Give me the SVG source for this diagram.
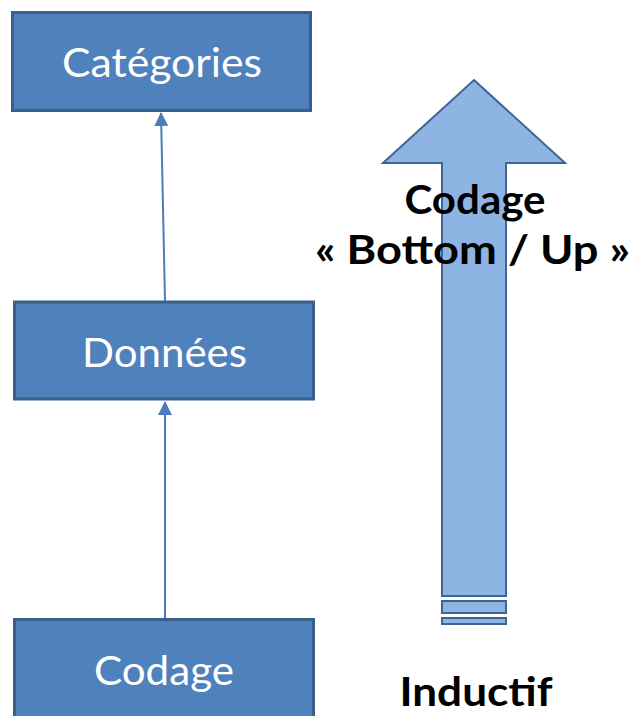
<svg xmlns="http://www.w3.org/2000/svg" width="637" height="716" viewBox="0 0 637 716">
  <style>
    .box { fill: #4F81BD; stroke: #3A5F8B; stroke-width: 3; }
    .boxText { font-family: Lato, "Open Sans", sans-serif; font-size: 41px; fill: #FFFFFF; text-anchor: middle; }
    .bigArrow { fill: #8EB4E3; stroke: #3E6494; stroke-width: 2; stroke-linejoin: miter; }
    .label { font-family: Lato, "Open Sans", sans-serif; font-weight: bold; font-size: 40px; fill: #000000; text-anchor: middle; }
    .link { stroke: #4A7EBB; stroke-width: 2; fill: none; }
  </style>
  <defs>
    <marker id="head" viewBox="0 0 14 14" refX="13" refY="7" markerWidth="14" markerHeight="14" markerUnits="userSpaceOnUse" orient="auto">
      <path d="M0,0 L14,7 L0,14 Z" fill="#4A7EBB"/>
    </marker>
  </defs>
  <rect width="637" height="716" fill="#FFFFFF"/>

  <!-- connectors -->
  <g id="connectors">
    <line class="link" x1="165" y1="301" x2="161" y2="113" marker-end="url(#head)"/>
    <line class="link" x1="165" y1="618" x2="165" y2="402" marker-end="url(#head)"/>
  </g>

  <!-- process boxes -->
  <g id="categories">
    <rect class="box" x="12.5" y="12.5" width="298" height="98"/>
    <text class="boxText" x="162" y="77" textLength="200" lengthAdjust="spacingAndGlyphs">Catégories</text>
  </g>
  <g id="donnees">
    <rect class="box" x="14.5" y="302" width="299" height="97"/>
    <text class="boxText" x="164.5" y="367" textLength="165" lengthAdjust="spacingAndGlyphs">Données</text>
  </g>
  <g id="codage">
    <rect class="box" x="14.5" y="619.5" width="299" height="110"/>
    <text class="boxText" x="164" y="685" textLength="140" lengthAdjust="spacingAndGlyphs">Codage</text>
  </g>

  <!-- striped up arrow -->
  <g id="bottom-up-arrow">
    <path class="bigArrow" d="M474,80 L565,163 L506,163 L506,596 L442,596 L442,163 L383,163 Z"/>
    <rect class="bigArrow" x="442" y="601" width="64" height="12"/>
    <rect class="bigArrow" x="442" y="618" width="64" height="6"/>
  </g>

  <g id="arrow-label">
    <text class="label" x="475" y="214" textLength="141" lengthAdjust="spacingAndGlyphs">Codage</text>
    <text class="label" x="472.5" y="264" textLength="315" lengthAdjust="spacingAndGlyphs">« Bottom / Up »</text>
  </g>
  <g id="inductif">
    <text class="label" x="476" y="706" textLength="153" lengthAdjust="spacingAndGlyphs">Inductif</text>
  </g>
</svg>
